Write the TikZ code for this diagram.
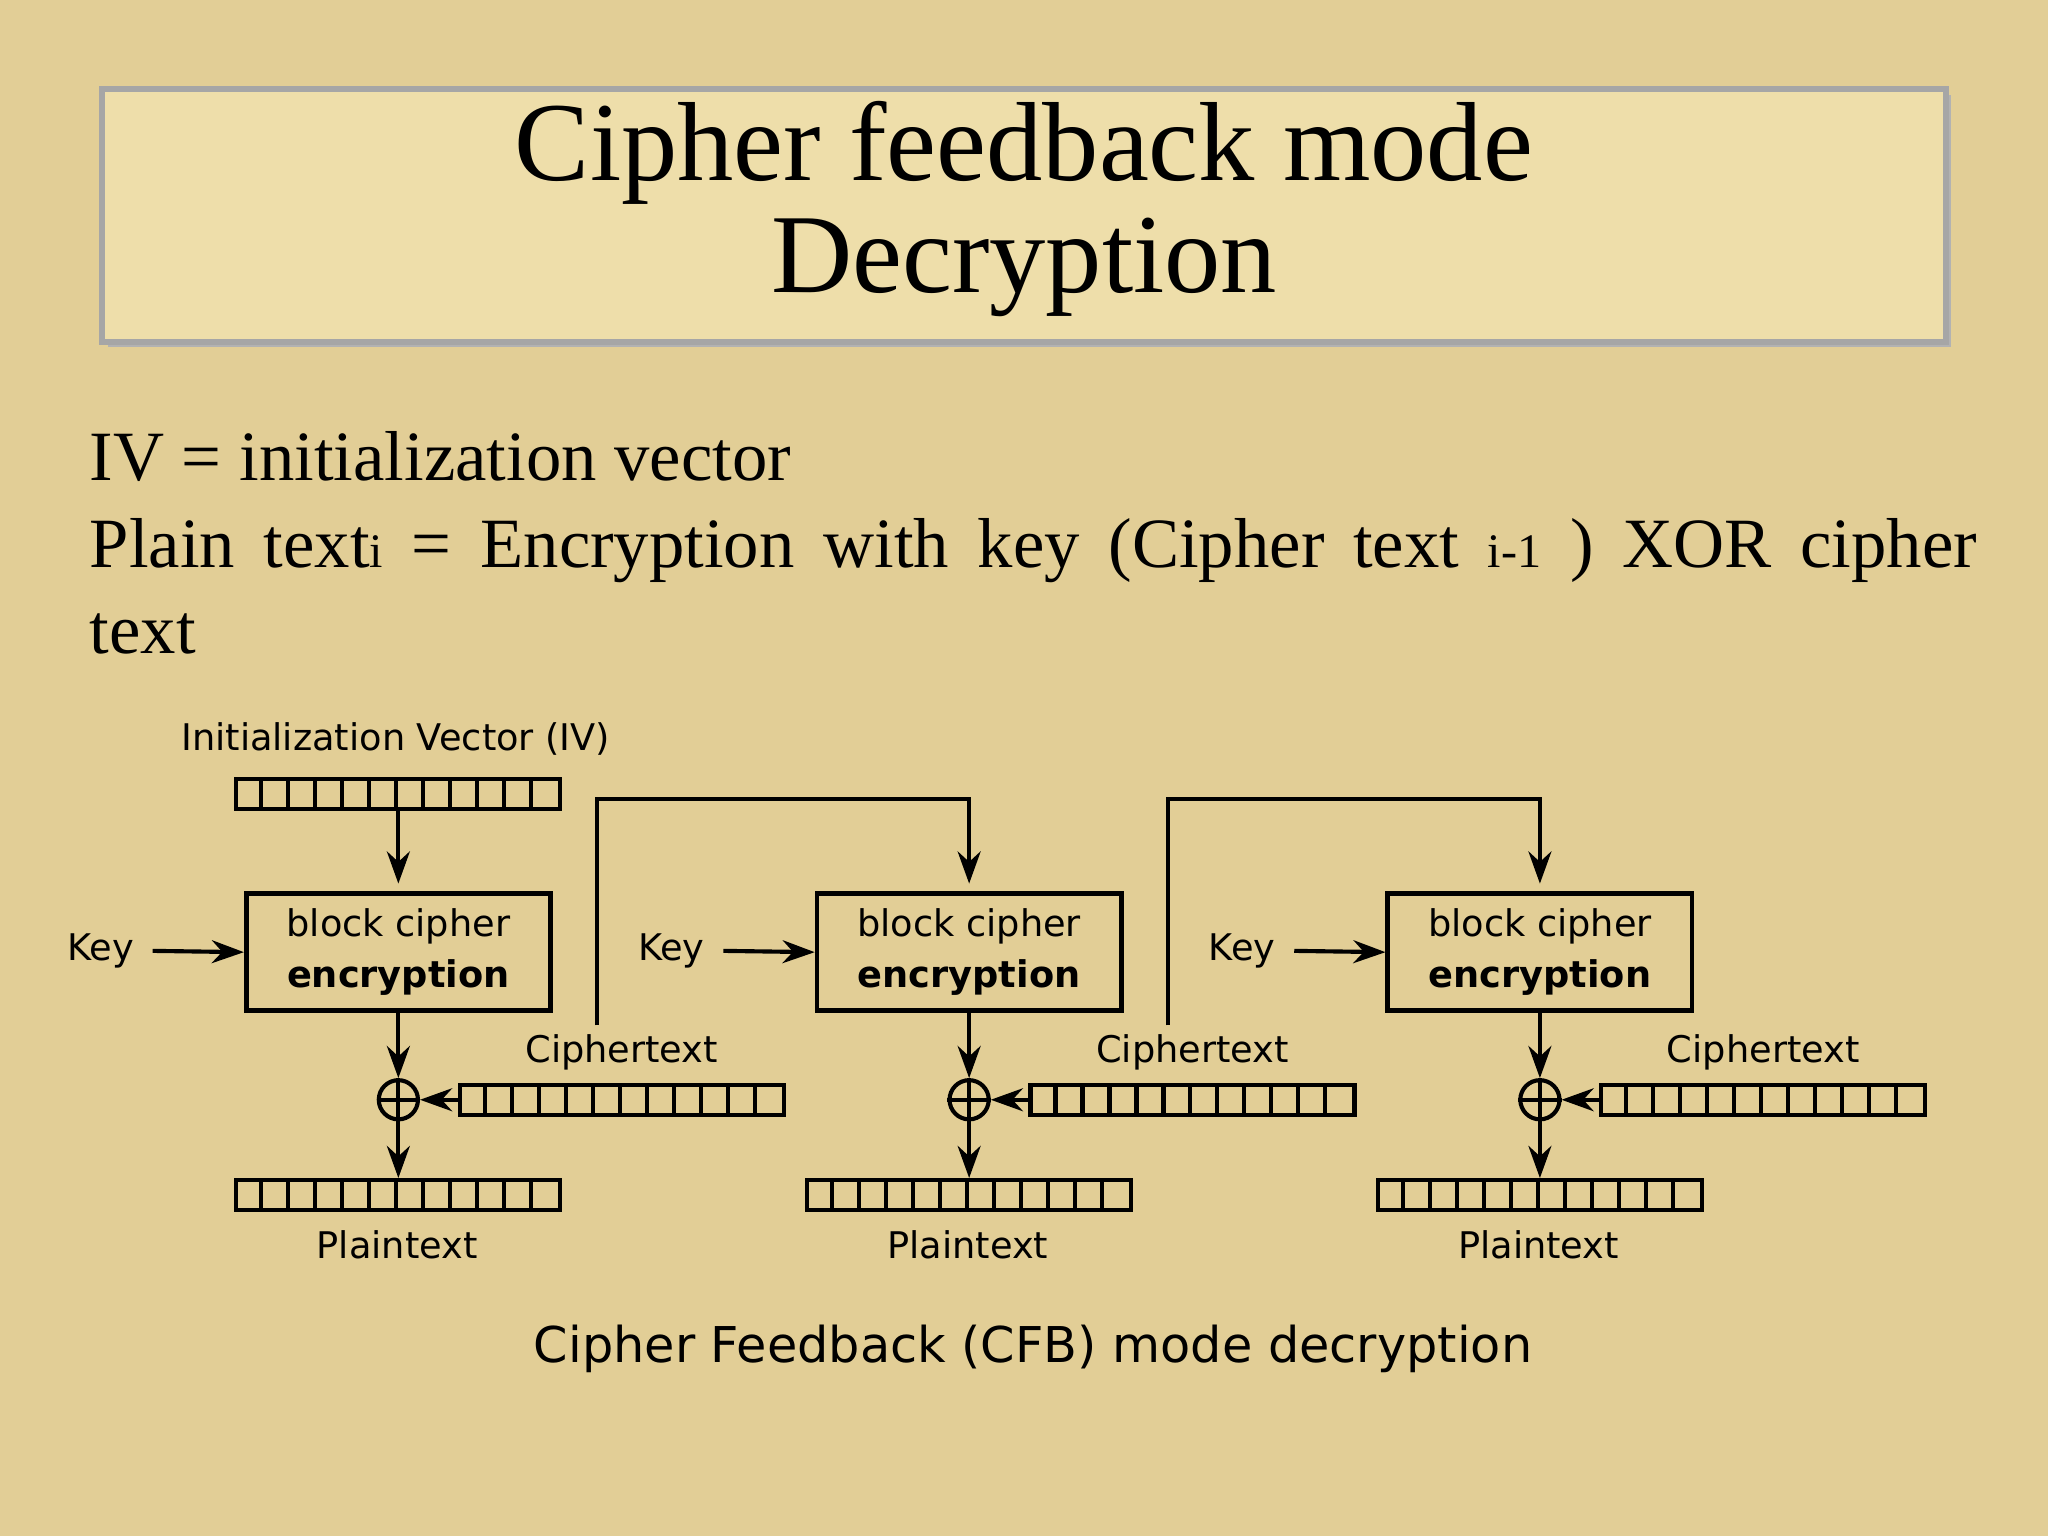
\documentclass[tikz,border=0pt]{standalone}
\usepackage{fontspec}
\setmainfont{Liberation Serif}
\newfontfamily\djsans{DejaVu Sans}
\usetikzlibrary{arrows.meta,shapes.geometric,calc}
\definecolor{bg}{RGB}{226,206,150}
\definecolor{tb}{RGB}{238,222,170}
\tikzset{
 arr/.style={-{Stealth[length=7,width=5]},line width=0.9pt},
 ln/.style={line width=0.9pt},
 bc/.style={draw,line width=1pt,minimum width=233*0.1mm,minimum height=85*0.1mm,align=center,font=\djsans\fontsize{8}{11}\selectfont},
 lbl/.style={font=\djsans\fontsize{8}{10}\selectfont},
 reg/.style={draw,line width=0.9pt,minimum width=248*0.1mm,minimum height=23*0.1mm,inner sep=0},
 xo/.style={circle,draw,line width=0.9pt,minimum size=30*0.1mm,inner sep=0}
}
\newcommand{\cells}[1]{\foreach \k in {1,...,11}{\draw[line width=0.9pt] ($(#1.west)+(\k*248/12,-11.5)$) -- ($(#1.west)+(\k*248/12,11.5)$);}}
\begin{document}
\begin{tikzpicture}[x=0.1mm,y=-0.1mm]
\fill[bg] (0,0) rectangle (1568,1176);
\useasboundingbox (0,0) rectangle (1568,1176);
\fill[gray!60] (83,73) rectangle (1494,266);
\node[draw=gray!70,line width=1.2pt,fill=tb,minimum width=1412*0.1mm,minimum height=194*0.1mm] (tbox) at (784,165) {};
\node[align=center,font=\fontsize{24.5}{24.5}\selectfont] (title) at (784,160) {Cipher feedback mode\\Decryption};
\node[anchor=base west,font=\fontsize{15.4}{18.7}\selectfont,inner sep=0] (l1) at (68,368) {IV = initialization vector};
\node[anchor=north west,font=\fontsize{15.4}{18.7}\selectfont,inner sep=0,text width=1445*0.1mm,align=justify] (l2) at (68,396) {Plain text{\fontsize{10.5}{10}\selectfont i} = Encryption with key (Cipher text {\fontsize{10.5}{10}\selectfont i-1} ) XOR cipher\linebreak text};
\node[lbl] (ivl) at (303,566) {Initialization Vector (IV)};
\node[reg] (iv) at (305,608) {}; \cells{iv}
\foreach \i/\dx in {1/0,2/437,3/874}{
 \node[bc] (b\i) at (305+\dx,729) {block cipher\\\textbf{encryption}};
 \node[lbl] (k\i) at (77+\dx,728) {Key};
 \draw[arr] (k\i.east) ++(2,0) -- (b\i.west);
 \node[xo] (x\i) at (305+\dx,842) {};
 \draw[ln] (x\i.north) -- (x\i.south) (x\i.west) -- (x\i.east);
 \draw[arr] (b\i.south) -- (x\i.north);
 \node[reg] (c\i) at (476+\dx,842) {}; \cells{c\i}
 \node[lbl] (cl\i) at (476+\dx,806) {Ciphertext};
 \draw[arr] (c\i.west) -- (x\i.east);
 \node[reg] (p\i) at (305+\dx,915) {}; \cells{p\i}
 \node[lbl] (pl\i) at (304+\dx,953) {Plaintext};
 \draw[arr] (x\i.south) -- (p\i.north);
}
\draw[arr] (iv.south) -- ($(b1.north)+(0,-6)$);
\coordinate (f1) at (457,785);
\coordinate (f2) at (894,785);
\draw[arr] (f1) -- (457,612) -| ($(b2.north)+(0,-6)$);
\draw[arr] (f2) -- (894,612) -| ($(b3.north)+(0,-6)$);
\node[font=\djsans\fontsize{10.75}{13}\selectfont] (cap) at (791,1033) {Cipher Feedback (CFB) mode decryption};
\end{tikzpicture}
\end{document}
